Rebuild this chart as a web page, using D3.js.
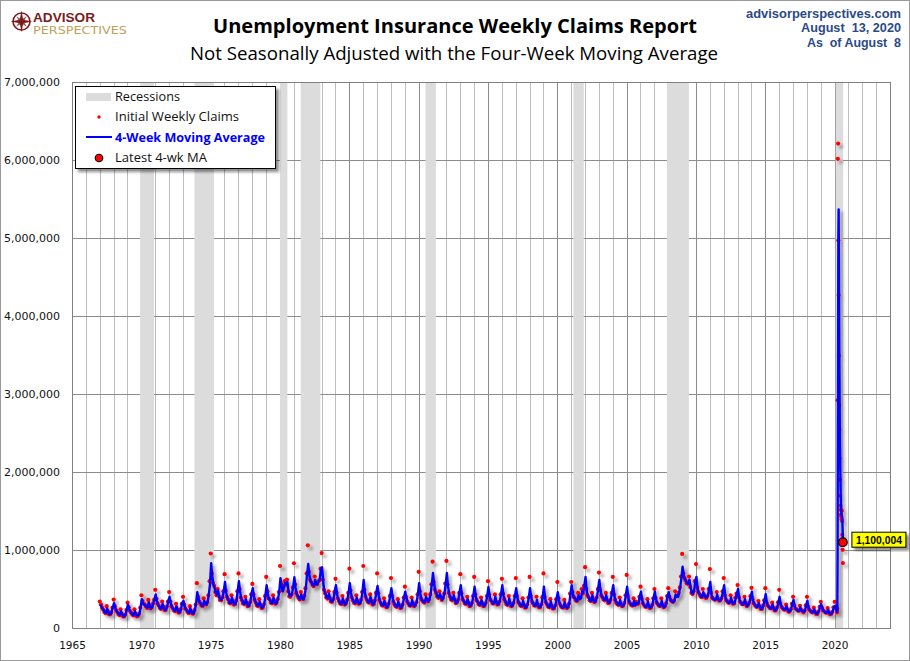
<!DOCTYPE html>
<html><head><meta charset="utf-8">
<script src="https://cdn.jsdelivr.net/npm/d3@7"></script>
<style>body{margin:0;background:#fff}svg{display:block}</style>
</head><body><svg id="c" width="910" height="661"></svg>
<script>
// ---- DATA (thousands of claims) ----
const startYear = 1967;
// 4-week moving average, one value per month (mid-month), Jan 1967 .. Feb 2020
const maMonthly = [
300,280,250,230,200,195,250,205,175,180,215,270, // 1967
320,260,220,200,175,170,215,180,150,150,180,240, // 1968
300,245,210,195,170,165,215,180,150,160,190,270, // 1969
370,320,300,290,270,260,330,280,250,270,320,370, // 1970
430,350,300,280,250,250,310,260,230,235,280,350, // 1971
400,320,270,250,225,220,280,235,200,205,250,320, // 1972
350,280,240,225,200,195,255,210,185,190,240,320, // 1973
460,380,330,310,285,285,350,310,300,340,430,560, // 1974
830,650,560,520,450,430,480,400,360,360,400,480, // 1975
590,450,390,360,320,320,390,340,300,310,360,480, // 1976
600,470,380,350,310,310,370,320,280,290,340,440, // 1977
510,410,350,320,285,285,340,290,255,265,310,420, // 1978
550,440,370,360,320,320,390,340,310,330,380,470, // 1979
640,530,470,520,580,560,590,470,410,410,440,530, // 1980
650,520,440,410,380,370,430,380,370,420,520,680, // 1981
820,680,600,580,550,540,620,560,560,600,620,760, // 1982
780,580,480,440,390,380,440,380,340,340,380,470, // 1983
550,430,370,340,310,310,380,330,300,320,370,460, // 1984
575,450,380,350,320,320,390,340,310,320,370,470, // 1985
615,460,390,360,330,330,400,340,300,310,360,460, // 1986
540,420,350,320,290,290,350,300,265,275,320,420, // 1987
510,390,330,300,275,275,340,290,255,265,310,400, // 1988
465,380,330,310,285,290,360,305,280,300,340,440, // 1989
575,440,370,350,330,330,400,360,340,370,440,560, // 1990
705,560,480,440,400,390,440,390,360,390,450,570, // 1991
705,530,440,400,360,360,420,360,320,330,370,460, // 1992
550,420,360,340,310,310,370,320,280,290,330,420, // 1993
530,410,350,330,300,300,360,310,280,290,330,420, // 1994
525,410,350,340,310,320,400,330,300,310,350,440, // 1995
550,420,360,330,300,300,380,310,280,290,330,420, // 1996
510,390,330,310,285,285,350,290,260,270,310,400, // 1997
510,390,330,310,285,290,360,295,265,270,310,400, // 1998
530,380,320,300,270,270,340,280,250,255,290,380, // 1999
460,360,300,280,260,265,330,280,255,270,320,440, // 2000
550,440,390,380,350,350,420,370,380,470,450,540, // 2001
655,480,410,390,350,350,420,360,330,350,400,510, // 2002
615,470,410,390,360,360,420,350,320,330,370,460, // 2003
550,410,350,320,300,300,360,300,280,290,330,430, // 2004
530,390,330,310,290,290,350,290,320,310,320,410, // 2005
465,360,310,290,270,275,340,280,255,265,300,390, // 2006
465,370,320,300,280,285,350,290,265,280,320,410, // 2007
460,390,350,340,330,350,430,400,400,450,530,640, // 2008
785,680,630,600,570,570,620,520,450,440,480,600, // 2009
655,500,450,430,400,400,460,420,390,390,420,500, // 2010
590,430,380,370,360,370,430,370,350,360,390,470, // 2011
550,400,350,340,320,330,390,330,310,320,380,440, // 2012
500,380,330,320,300,310,370,310,280,300,330,410, // 2013
465,350,310,290,270,275,320,270,245,250,290,360, // 2014
435,320,285,270,250,255,300,250,225,230,265,330, // 2015
400,300,265,250,235,240,280,235,210,215,245,310, // 2016
360,280,245,235,220,225,265,220,215,205,225,290, // 2017
350,260,230,215,200,205,240,200,180,185,215,270, // 2018
305,250,220,210,195,200,235,195,175,185,210,265, // 2019
285,240                                           // 2020
];
// Initial weekly claims, one week per month (first week), Jan 1967 .. Feb 2020
const claimsMonthly = [
340,300,260,235,205,190,280,215,175,175,200,260, // 1967
365,280,230,205,180,165,240,185,150,148,170,230, // 1968
325,265,220,200,175,160,240,185,150,155,180,260, // 1969
420,345,310,300,275,255,360,290,250,265,310,360, // 1970
490,375,315,290,255,245,340,270,230,230,270,340, // 1971
460,340,280,255,230,215,310,240,200,200,240,310, // 1972
400,300,250,230,205,190,280,215,185,185,230,300, // 1973
575,400,340,315,290,280,380,320,300,330,420,600, // 1974
955,700,580,540,460,420,500,410,360,355,390,470, // 1975
690,480,400,370,325,315,420,345,300,305,350,470, // 1976
700,500,390,355,315,305,400,325,280,285,330,430, // 1977
565,430,360,325,290,280,370,295,255,260,300,410, // 1978
655,470,380,370,325,315,420,345,310,325,370,460, // 1979
795,560,480,540,600,550,620,470,405,400,430,520, // 1980
830,560,450,415,385,365,460,385,370,415,510,700, // 1981
1060,720,620,590,555,535,660,565,560,595,610,760, // 1982
960,620,490,445,395,375,470,385,340,335,370,460, // 1983
630,450,380,345,315,305,410,335,300,315,360,450, // 1984
760,480,390,355,325,315,420,345,310,315,360,460, // 1985
795,490,400,365,335,325,430,345,300,305,350,450, // 1986
700,445,360,325,295,285,380,305,265,270,310,410, // 1987
640,410,335,305,280,270,370,295,255,260,300,390, // 1988
530,400,340,315,290,285,390,310,280,295,330,430, // 1989
720,470,380,355,335,325,430,365,340,365,430,560, // 1990
850,590,490,450,405,385,470,395,360,385,440,570, // 1991
860,560,450,405,365,355,450,365,320,325,360,450, // 1992
690,445,370,345,315,305,400,325,280,285,320,410, // 1993
655,430,360,335,305,295,390,315,280,285,320,410, // 1994
600,430,360,345,315,315,430,335,300,305,340,430, // 1995
630,440,370,335,305,295,410,315,280,285,320,410, // 1996
640,410,335,315,290,280,380,295,260,265,300,390, // 1997
655,410,340,315,290,285,400,300,265,265,300,395, // 1998
700,400,330,305,275,265,370,285,250,250,285,370, // 1999
590,380,310,285,265,260,360,285,255,265,310,440, // 2000
590,460,400,385,355,345,450,375,390,500,440,540, // 2001
780,500,420,395,355,345,450,365,330,345,390,500, // 2002
710,490,420,395,365,355,450,355,320,325,360,450, // 2003
655,430,360,325,305,295,390,305,280,285,320,420, // 2004
680,410,340,315,295,285,380,295,340,305,310,400, // 2005
530,375,320,295,275,270,370,285,255,260,295,380, // 2006
500,385,325,305,285,280,380,295,265,275,315,410, // 2007
510,400,360,345,335,350,470,405,410,450,520,660, // 2008
950,700,640,610,575,565,660,525,450,435,470,600, // 2009
820,520,460,435,405,395,500,425,390,385,410,500, // 2010
755,450,390,375,365,365,460,375,350,355,380,470, // 2011
640,415,360,345,325,325,420,335,310,315,390,440, // 2012
550,395,340,325,305,305,400,315,280,295,325,410, // 2013
515,365,315,295,275,270,345,275,245,245,285,355, // 2014
510,330,290,275,255,250,325,255,225,225,260,330, // 2015
490,310,270,255,240,235,300,240,210,210,240,310, // 2016
400,290,250,240,225,220,285,225,225,200,220,290, // 2017
400,270,235,220,205,200,260,205,180,180,210,270, // 2018
335,260,225,215,200,195,255,200,175,180,205,265, // 2019
335,250                                           // 2020
];
// Weekly detail for the 2020 spike
const weeks2020 = ["2020-03-07","2020-03-14","2020-03-21","2020-03-28","2020-04-04","2020-04-11","2020-04-18","2020-04-25","2020-05-02","2020-05-09","2020-05-16","2020-05-23","2020-05-30","2020-06-06","2020-06-13","2020-06-20","2020-06-27","2020-07-04","2020-07-11","2020-07-18","2020-07-25","2020-08-01","2020-08-08"];
const claims2020 = [200,251,2920,6015,6211,4971,4268,3492,2850,2549,2175,1902,1694,1567,1514,1453,1425,1390,1503,1371,1195,1002,832];
const ma2020 = [205,220,905,2347,3849,5029,5366,4736,3895,3290,2767,2369,2080,1834,1669,1557,1490,1445,1443,1422,1365,1268,1100.004];
const latestValue = 1100004;
const recessions = [["1969-12-01","1970-11-30"],["1973-11-01","1975-03-31"],["1980-01-01","1980-07-15"],["1981-07-01","1982-11-30"],["1990-07-01","1991-03-31"],["2001-03-01","2001-11-30"],["2007-12-01","2009-06-30"],["2020-02-01","2020-08-15"]];
const yTicks = [0,1000,2000,3000,4000,5000,6000,7000];
const xTickYears = [1965,1970,1975,1980,1985,1990,1995,2000,2005,2010,2015,2020];
const legendItems = ["Recessions","Initial Weekly Claims","4-Week Moving Average","Latest 4-wk MA"];

// ---- CHART ----
const svg = d3.select("#c");
const P = {l:72, r:890, t:82, b:628};
const parse = d3.timeParse("%Y-%m-%d");
const x = d3.scaleTime().domain([new Date(1965,0,1), new Date(2024,0,1)]).range([P.l, P.r]);
const y = d3.scaleLinear().domain([0,7000]).range([P.b, P.t]);

const defs = svg.append("defs");
const f = defs.append("filter").attr("id","sh").attr("x","-20%").attr("y","-20%").attr("width","140%").attr("height","140%");
f.append("feDropShadow").attr("dx",3).attr("dy",3).attr("stdDeviation",1.6).attr("flood-color","#000").attr("flood-opacity",0.35);
const f2 = defs.append("filter").attr("id","sh2").attr("x","-10%").attr("y","-10%").attr("width","130%").attr("height","140%");
f2.append("feDropShadow").attr("dx",3).attr("dy",3).attr("stdDeviation",1.5).attr("flood-color","#000").attr("flood-opacity",0.45);

svg.append("rect").attr("x",0.5).attr("y",0.5).attr("width",909).attr("height",660).attr("fill","#fff").attr("stroke","#9a9a9a");

// gridlines
const years = d3.range(1966, 2024);
svg.append("g").selectAll("line").data(years).join("line")
  .attr("x1",d=>Math.round(x(new Date(d,0,1)))+0.5).attr("x2",d=>Math.round(x(new Date(d,0,1)))+0.5)
  .attr("y1",P.t).attr("y2",P.b)
  .attr("stroke",d=>d%5===0?"#8c8c8c":"#bcbcbc").attr("stroke-width",1);
svg.append("g").selectAll("line").data(yTicks.slice(1,-1)).join("line")
  .attr("x1",P.l).attr("x2",P.r).attr("y1",d=>Math.round(y(d))+0.5).attr("y2",d=>Math.round(y(d))+0.5)
  .attr("stroke","#8c8c8c");

// recessions
svg.append("g").selectAll("rect").data(recessions).join("rect")
  .attr("x",d=>x(parse(d[0]))).attr("width",d=>x(parse(d[1]))-x(parse(d[0])))
  .attr("y",P.t).attr("height",P.b-P.t).attr("fill","#dcdcdc");

// build series
const maSeries = maMonthly.map((v,i)=>({date:new Date(startYear+Math.floor(i/12), i%12, 15), v}))
  .concat(weeks2020.map((w,i)=>({date:parse(w), v:ma2020[i]})));
const dotSeries = claimsMonthly.map((v,i)=>({date:new Date(startYear+Math.floor(i/12), i%12, 4), v}))
  .concat(weeks2020.map((w,i)=>({date:parse(w), v:claims2020[i]})));

const dataG = svg.append("g").attr("filter","url(#sh)");
dataG.append("g").selectAll("circle").data(dotSeries).join("circle")
  .attr("cx",d=>x(d.date)).attr("cy",d=>y(d.v)).attr("r",2.1).attr("fill","#ff0000");
dataG.append("path").datum(maSeries)
  .attr("d", d3.line().x(d=>x(d.date)).y(d=>y(d.v)))
  .attr("fill","none").attr("stroke","#0000ff").attr("stroke-width",2.4).attr("stroke-linejoin","round");

// plot border
svg.append("rect").attr("x",P.l+0.5).attr("y",P.t+0.5).attr("width",P.r-P.l).attr("height",P.b-P.t)
  .attr("fill","none").attr("stroke","#808080");

// axes labels
const yAxis = d3.axisLeft(y).tickValues(yTicks).tickSize(0).tickPadding(12).tickFormat(d=>d3.format(",")(d*1000));
const ya = svg.append("g").attr("transform",`translate(${P.l},0)`).call(yAxis);
ya.select(".domain").remove();
ya.selectAll("text").attr("font-family","DejaVu Sans").attr("font-size",11).attr("fill","#111");
const xAxis = d3.axisBottom(x).tickValues(xTickYears.map(yv=>new Date(yv,0,1))).tickSize(0).tickPadding(14).tickFormat(d3.timeFormat("%Y"));
const xa = svg.append("g").attr("transform",`translate(0,${P.b})`).call(xAxis);
xa.select(".domain").remove();
xa.selectAll("text").attr("font-family","DejaVu Sans").attr("font-size",10.5).attr("fill","#111");

// latest marker + label
const last = maSeries[maSeries.length-1];
const lx = x(last.date), ly = y(last.v);
svg.append("circle").attr("cx",lx).attr("cy",ly).attr("r",4.3).attr("fill","#ff0000").attr("stroke","#000").attr("stroke-width",1.2);
const lab = svg.append("g").attr("transform",`translate(${lx+9},${ly-10})`);
lab.append("rect").attr("width",54).attr("height",15).attr("fill","#ffff00").attr("stroke","#000").attr("filter","url(#sh2)");
lab.append("text").attr("x",27).attr("y",11.5).attr("text-anchor","middle").attr("font-family","Liberation Sans")
  .attr("font-weight","bold").attr("font-size",11).attr("textLength",46).attr("lengthAdjust","spacingAndGlyphs")
  .text(d3.format(",")(latestValue));

// legend
const lg = svg.append("g").attr("transform","translate(75,86)");
lg.append("rect").attr("x",0.5).attr("y",0.5).attr("width",200).attr("height",82).attr("fill","#fff").attr("stroke","#000").attr("filter","url(#sh2)");
lg.append("rect").attr("x",11).attr("y",7).attr("width",25).attr("height",8).attr("fill","#dcdcdc");
lg.append("circle").attr("cx",24).attr("cy",31).attr("r",1.7).attr("fill","#ff0000");
lg.append("line").attr("x1",11).attr("x2",37).attr("y1",51).attr("y2",51).attr("stroke","#0000ff").attr("stroke-width",2);
lg.append("circle").attr("cx",24).attr("cy",72).attr("r",3.8).attr("fill","#ff0000").attr("stroke","#000").attr("stroke-width",1.1);
const lw = [65,124,150,92];
lg.selectAll("text.lt").data(legendItems).join("text").attr("class","lt")
  .attr("x",40).attr("y",(d,i)=>15+i*20.3)
  .attr("font-family","Open Sans").attr("font-size",12.5)
  .attr("font-weight",(d,i)=>i===2?"bold":"normal")
  .attr("fill",(d,i)=>i===2?"#0000ff":"#111")
  .attr("textLength",(d,i)=>lw[i]).attr("lengthAdjust","spacingAndGlyphs")
  .text(d=>d);

// titles
svg.append("text").attr("x",455).attr("y",33).attr("text-anchor","middle").attr("font-family","Open Sans")
  .attr("font-weight","bold").attr("font-size",20).attr("fill","#000").attr("textLength",484).attr("lengthAdjust","spacingAndGlyphs")
  .text("Unemployment Insurance Weekly Claims Report");
svg.append("text").attr("x",454).attr("y",60).attr("text-anchor","middle").attr("font-family","Open Sans")
  .attr("font-size",18).attr("fill","#000").attr("textLength",528).attr("lengthAdjust","spacingAndGlyphs")
  .text("Not Seasonally Adjusted with the Four-Week Moving Average");

const rt = [["advisorperspectives.com",18,155],["August  13, 2020",32,100],["As  of August  8",47,94]];
svg.selectAll("text.rt").data(rt).join("text").attr("class","rt")
  .attr("x",901).attr("y",d=>d[1]).attr("text-anchor","end").attr("font-family","Liberation Sans")
  .attr("font-weight","bold").attr("font-size",13).attr("fill","#2b4a86")
  .attr("textLength",d=>d[2]).attr("lengthAdjust","spacingAndGlyphs").attr("xml:space","preserve")
  .text(d=>d[0]);

// logo
const logo = svg.append("g").attr("transform","translate(21.5,21.5)");
logo.append("circle").attr("r",8.5).attr("fill","none").attr("stroke","#7b1c1c").attr("stroke-width",1.6);
const star = (R, r, rot) => { const p = d3.path(); for (let k=0;k<8;k++){ const a = rot + k*Math.PI/4; const rr = k%2===0?R:r; const px = rr*Math.sin(a), py = -rr*Math.cos(a); k===0?p.moveTo(px,py):p.lineTo(px,py);} p.closePath(); return p.toString(); };
logo.append("path").attr("d",star(7.5,2,Math.PI/4)).attr("fill","#a04040");
logo.append("path").attr("d",star(11,2.4,0)).attr("fill","#7b1c1c");
svg.append("text").attr("x",33).attr("y",21.5).attr("font-family","Liberation Sans").attr("font-weight","bold")
  .attr("font-size",13).attr("fill","#7b1c1c").attr("textLength",62).attr("lengthAdjust","spacingAndGlyphs").text("ADVISOR");
svg.append("text").attr("x",33).attr("y",34).attr("font-family","DejaVu Sans").attr("font-weight","normal")
  .attr("font-size",11).attr("fill","#bfa25a").attr("textLength",94).attr("lengthAdjust","spacingAndGlyphs").text("PERSPECTIVES");
</script></body></html>
